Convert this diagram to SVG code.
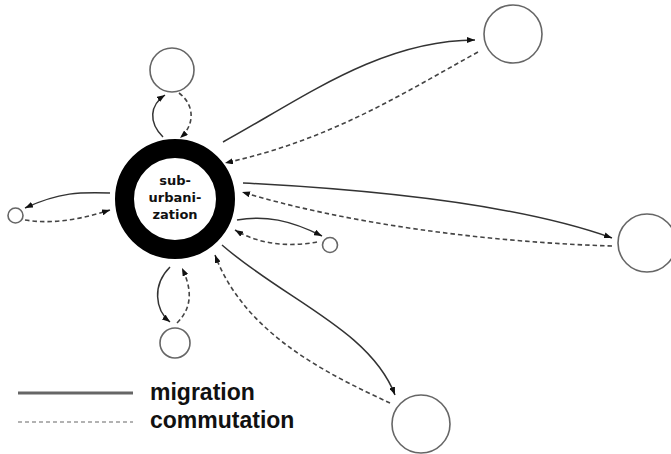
<svg xmlns="http://www.w3.org/2000/svg" width="671" height="454" viewBox="0 0 671 454">
<style>
.node{fill:#fff;stroke:#666;stroke-width:1.6}
.mig{fill:none;stroke:#333;stroke-width:1.5;marker-end:url(#ah)}
.com{fill:none;stroke:#444;stroke-width:1.6;stroke-dasharray:4.5 3;marker-end:url(#ah)}
.lbl{font-family:"DejaVu Sans",sans-serif;font-weight:bold;font-size:13px;fill:#111;text-anchor:middle}
.leg{font-family:"Liberation Sans",Arial,sans-serif;font-weight:bold;font-size:23px;fill:#111}
</style>
<defs>
<marker id="ah" markerUnits="userSpaceOnUse" markerWidth="8" markerHeight="6" refX="8" refY="3" orient="auto">
<path d="M0,0 L8,3 L0,6 z" fill="#111"/>
</marker>
</defs>
<rect width="671" height="454" fill="#fff"/>
<g id="connectors">
<path class="mig" d="M163,137 C148,122 150,105 165,95"/>
<path class="com" d="M179,93 C195,105 195,125 180,138"/>
<path class="mig" d="M170,267 C152,285 155,310 170,322"/>
<path class="com" d="M177,323 C195,305 190,285 182,268"/>
<path class="mig" d="M110,193 C80,192 60,192 25,208"/>
<path class="com" d="M25,220 C55,225 85,218 110,210"/>
<path class="mig" d="M237,220 C265,215 290,220 322,236"/>
<path class="com" d="M317,242 C290,247 260,245 235,230"/>
<path class="mig" d="M243,183 C380,190 520,205 612,238"/>
<path class="com" d="M612,246 C480,242 340,222 242,192"/>
<path class="mig" d="M223,142 C300,100 380,40 475,40"/>
<path class="com" d="M478,52 C400,95 330,140 225,163"/>
<path class="mig" d="M222,245 C285,300 370,330 395,395"/>
<path class="com" d="M390,403 C330,375 245,335 215,255"/>
</g>
<g id="suburbanization">
<circle cx="175" cy="199" r="50.5" fill="#fff" stroke="#000" stroke-width="19"/>
<text class="lbl" x="175" y="185">sub-</text>
<text class="lbl" x="175" y="202">urbani-</text>
<text class="lbl" x="175" y="219">zation</text>
</g>
<g id="node-top"><circle class="node" cx="172" cy="70" r="22"/></g>
<g id="node-bottom"><circle class="node" cx="175" cy="343" r="15"/></g>
<g id="node-left"><circle class="node" cx="15.5" cy="215.5" r="7.5"/></g>
<g id="node-right-small"><circle class="node" cx="330" cy="245" r="7.5"/></g>
<g id="node-top-right"><circle class="node" cx="513" cy="34" r="29"/></g>
<g id="node-right"><circle class="node" cx="647" cy="243" r="29"/></g>
<g id="node-bottom-right"><circle class="node" cx="421" cy="424" r="29"/></g>
<g id="legend">
<line x1="18" y1="393" x2="133" y2="393" stroke="#666" stroke-width="3"/>
<line x1="18" y1="422" x2="133" y2="422" stroke="#999" stroke-width="1.6" stroke-dasharray="4 3"/>
<text class="leg" x="150" y="400">migration</text>
<text class="leg" x="150" y="428">commutation</text>
</g>
</svg>
